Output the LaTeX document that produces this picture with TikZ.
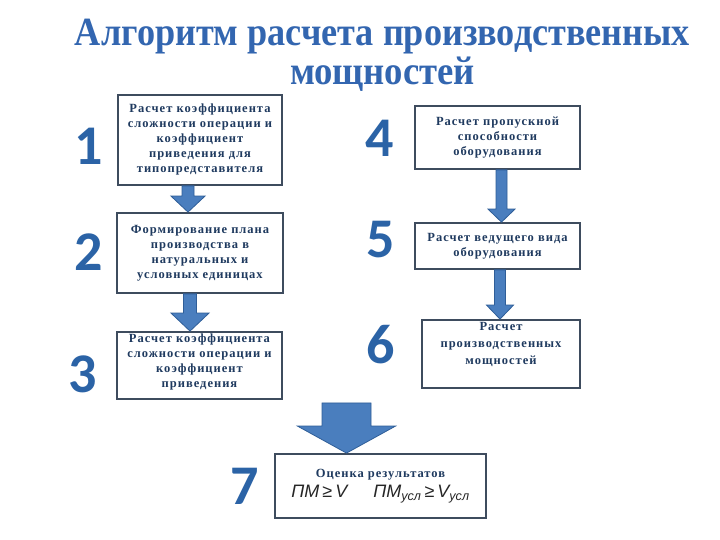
\documentclass[tikz,border=0pt]{standalone}
\usepackage{fontspec}
\setmainfont{Liberation Serif}
\newfontfamily\boxfont[LetterSpace=8]{Liberation Serif}
\newfontfamily\titlefont{Liberation Serif}
\newfontfamily\numfont{Carlito}
\newfontfamily\formfont{Liberation Sans}
\usetikzlibrary{calc}
\definecolor{boxline}{HTML}{3E4C5E}
\definecolor{boxtext}{HTML}{1F3A5F}
\definecolor{arrfill}{HTML}{4A7EBE}
\definecolor{arrline}{HTML}{2F5E98}
\definecolor{numcol}{HTML}{2B63A6}
\definecolor{titlecol}{HTML}{3366B0}
\newcommand\blockarrow[5]{% start, target node, shaft half, head half, head length
  \draw[barrow] let \p1=#1, \p2=(#2.north) in
    (\x1-#3pt,\y1) -- (\x1-#3pt,\y2+#5pt) -- (\x1-#4pt,\y2+#5pt) -- (\x1,\y2)
    -- (\x1+#4pt,\y2+#5pt) -- (\x1+#3pt,\y2+#5pt) -- (\x1+#3pt,\y1) -- cycle;}
\begin{document}
\begin{tikzpicture}[x=1pt,y=1pt,
  stepbox/.style={draw=boxline, line width=1.8pt, fill=white, inner sep=0pt, align=center,
    font=\boxfont\bfseries\fontsize{12.5}{15}\selectfont, text=boxtext},
  num/.style={font=\numfont\bfseries\fontsize{56}{56}\selectfont, text=numcol, inner sep=0pt},
  barrow/.style={fill=arrfill, draw=arrline, line width=0.8pt, line join=miter},
  ttl/.style={font=\titlefont\bfseries\fontsize{40}{40}\selectfont, text=titlecol, inner sep=0pt, anchor=base}]
\useasboundingbox (0,0) rectangle (720,540);
\fill[white] (0,0) rectangle (720,540);

% title
\node[ttl] (t1) at (382.5,494) {\resizebox{615pt}{\height}{Алгоритм расчета производственных}};
\node[ttl] (t2) at (382.5,455) {\resizebox{185pt}{\height}{мощностей}};

% numbers
\node[num] (n1) at (89,394) {1};
\node[num] (n2) at (89,288) {2};
\node[num] (n3) at (83,166) {3};
\node[num] (n4) at (380,402) {4};
\node[num] (n5) at (381,300) {5};
\node[num] (n6) at (381,195) {6};
\node[num] (n7) at (245,54) {7};

% boxes
\node[stepbox, minimum width=164, minimum height=90, text width=160] (b1) at (200,400)
  {Расчет коэффициента\\ сложности операции и\\ коэффициент\\ приведения для\\ типопредставителя};
\node[stepbox, minimum width=166, minimum height=80, text width=160] (b2) at (200,287)
  {Формирование плана\\ производства в\\ натуральных и\\ условных единицах};
\node[stepbox, minimum width=165, minimum height=67] (b3) at (199.5,174.5)
  {\parbox[c][63pt][t]{160pt}{\centering Расчет коэффициента\\ сложности операции и\\ коэффициент\\ приведения}};
\node[stepbox, minimum width=165, minimum height=63, text width=160] (b4) at (497.5,402.5)
  {Расчет пропускной\\ способности\\ оборудования};
\node[stepbox, minimum width=165, minimum height=46, text width=160] (b5) at (497.5,294)
  {Расчет ведущего вида\\ оборудования};
\node[stepbox, minimum width=158, minimum height=68] (b6) at (501,186)
  {\parbox[c][64pt][t]{154pt}{\centering\fontsize{12.5}{17}\selectfont Расчет\\ производственных\\ мощностей}};
\node[stepbox, minimum width=211, minimum height=64, text width=205] (b7) at (380.5,54)
  {Оценка результатов\\[4pt]
   {\formfont\mdseries\itshape\fontsize{18}{18}\selectfont\color{black!85}ПМ\,{\upshape≥}\,V\hspace{26pt}ПМ\textsubscript{усл}\,{\upshape≥}\,V\textsubscript{усл}}};

% connectors
\coordinate (bigtop) at (346.5,137);
\blockarrow{($(b1.south)+(-12,0)$)}{b2}{6}{17}{16}
\blockarrow{($(b2.south)+(-10,0)$)}{b3}{6.5}{19}{18}
\blockarrow{($(b4.south)+(4,0)$)}{b5}{5.5}{13.5}{13}
\blockarrow{($(b5.south)+(2.5,0)$)}{b6}{5.5}{13.5}{14}
\blockarrow{(bigtop)}{b7}{24.5}{49}{27}
\end{tikzpicture}
\end{document}
